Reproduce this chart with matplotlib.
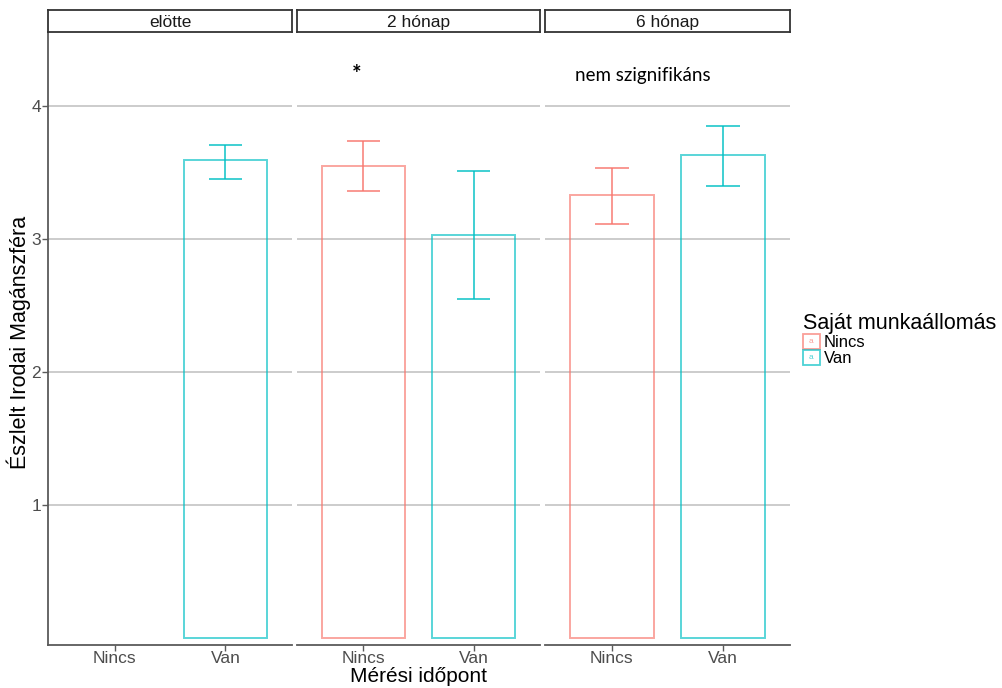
import matplotlib
matplotlib.use("Agg")
import matplotlib.pyplot as plt
from matplotlib.patches import Rectangle
from matplotlib.legend_handler import HandlerPatch

plt.rcParams['font.family'] = ['Liberation Sans', 'DejaVu Sans']

# facets, groups and values (mean, lower, upper of the CI)
panels = ['elötte', '2 hónap', '6 hónap']
groups = ['Nincs', 'Van']
means = {
    'elötte': [None, 3.59],
    '2 hónap': [3.55, 3.03],
    '6 hónap': [3.33, 3.63],
}
lower = {
    'elötte': [None, 3.45],
    '2 hónap': [3.36, 2.55],
    '6 hónap': [3.11, 3.40],
}
upper = {
    'elötte': [None, 3.71],
    '2 hónap': [3.74, 3.51],
    '6 hónap': [3.53, 3.85],
}
notes = {'2 hónap': (0.94, 4.24, '*', 16, 'bold'),
         '6 hónap': (1.28, 4.23, 'nem szignifikáns', 13.5, 'normal')}

colors = ['#F8766D', '#00BFC4']
grid_col = '#C4C4C4'
axis_col = '#5A5A5A'
tick_col = '#4D4D4D'

W, H = 1002, 688
fig = plt.figure(figsize=(W / 100, H / 100), dpi=100)

panel_x = [(48, 292), (297, 540), (545, 790)]
top, bottom, strip_top = 32, 645, 10


def px_rect(x0, x1, y0, y1):
    return [x0 / W, 1 - y1 / H, (x1 - x0) / W, (y1 - y0) / H]


for i, name in enumerate(panels):
    x0, x1 = panel_x[i]
    ax = fig.add_axes(px_rect(x0, x1, top, bottom))
    ax.set_xlim(0.4, 2.6)
    ax.set_ylim(-0.053, 4.556)
    for s in ax.spines.values():
        s.set_visible(False)
    ax.spines['bottom'].set_visible(True)
    ax.spines['bottom'].set_color(axis_col)
    ax.spines['bottom'].set_linewidth(1.3)
    ax.set_yticks([1, 2, 3, 4])
    if i == 0:
        ax.spines['left'].set_visible(True)
        ax.spines['left'].set_color(axis_col)
        ax.spines['left'].set_linewidth(1.3)
        ax.tick_params(axis='y', colors=axis_col, labelcolor=tick_col,
                       labelsize=12.5, length=4, width=1, pad=1)
    else:
        ax.tick_params(axis='y', length=0, labelleft=False)
    ax.yaxis.grid(True, color=grid_col, linewidth=1.2)
    ax.set_axisbelow(True)
    ax.set_xticks([1, 2])
    ax.set_xticklabels(groups)
    ax.tick_params(axis='x', colors=axis_col, labelcolor=tick_col,
                   labelsize=12.5, length=4, width=1, pad=0.5)

    for j, g in enumerate(groups):
        m = means[name][j]
        if m is None:
            continue
        c = colors[j]
        xpos = j + 1
        ax.bar(xpos, m, width=0.75, facecolor='none', edgecolor=c,
               linewidth=1.4, alpha=0.65, zorder=3)
        ax.vlines(xpos, lower[name][j], upper[name][j], color=c,
                  linewidth=1.4, alpha=0.75, zorder=4)
        ax.hlines([lower[name][j], upper[name][j]], xpos - 0.15, xpos + 0.15,
                  color=c, linewidth=1.4, alpha=0.75, zorder=4)

    if name in notes:
        nx, ny, txt, fs, fw = notes[name]
        ax.text(nx, ny, txt, ha='center', va='center', fontsize=fs,
                fontweight=fw, family=['Lato', 'DejaVu Sans'], color='black')

    # facet strip
    sax = fig.add_axes(px_rect(x0, x1, strip_top, top))
    sax.set_xticks([])
    sax.set_yticks([])
    for s in sax.spines.values():
        s.set_color('#333333')
        s.set_linewidth(1.3)
    sax.text(0.5, 0.45, name, ha='center', va='center', fontsize=12.5,
             transform=sax.transAxes, color='#1A1A1A')

fig.text(419 / W, 1 - 677 / H, 'Mérési időpont', ha='center', va='center',
         fontsize=15)
fig.text(19 / W, 1 - 342 / H, 'Észlelt Irodai Magánszféra', ha='center',
         va='center', rotation=90, fontsize=15.5)


class KeyHandler(HandlerPatch):
    def create_artists(self, legend, orig_handle, xdescent, ydescent,
                       width, height, fontsize, trans):
        r = Rectangle((-xdescent, -ydescent), width, height, facecolor='white',
                      edgecolor=orig_handle.get_edgecolor(), linewidth=1.3,
                      transform=trans)
        t = plt.Text(-xdescent + width / 2, -ydescent + height / 2, 'a',
                     color=orig_handle.get_edgecolor(), fontsize=6,
                     ha='center', va='center', transform=trans)
        return [r, t]


handles = [Rectangle((0, 0), 1, 1, facecolor='white', edgecolor=c, alpha=0.7)
           for c in colors]
leg = fig.legend(handles, groups, title='Saját munkaállomás',
                 loc='upper left', bbox_to_anchor=(798 / W, 1 - 308 / H),
                 frameon=False, fontsize=12, title_fontsize=15.5,
                 handler_map={Rectangle: KeyHandler()},
                 handlelength=1.0, handleheight=1.0, handletextpad=0.25,
                 labelspacing=0.0, borderaxespad=0, borderpad=0.3)
leg._legend_box.align = 'left'

fig.savefig('out.png', dpi=100)
